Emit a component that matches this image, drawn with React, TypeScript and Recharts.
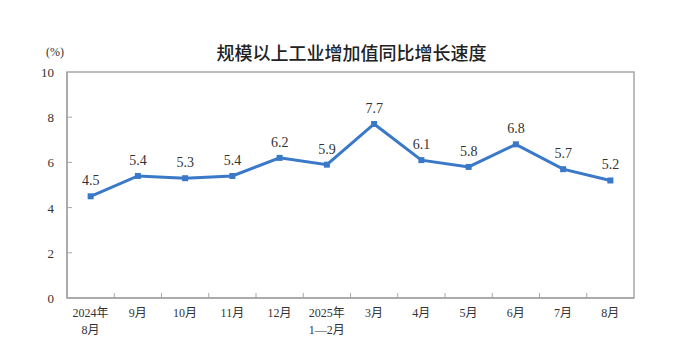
import React from "react";
import { LineChart, Line, XAxis, YAxis, ReferenceArea, LabelList } from "recharts";

const categories: string[][] = [
  ["2024年", "8月"], ["9月"], ["10月"], ["11月"], ["12月"], ["2025年", "1—2月"],
  ["3月"], ["4月"], ["5月"], ["6月"], ["7月"], ["8月"],
];
const growth: number[] = [4.5, 5.4, 5.3, 5.4, 6.2, 5.9, 7.7, 6.1, 5.8, 6.8, 5.7, 5.2];
const yTicks: number[] = [0, 2, 4, 6, 8, 10];
const xBoundaries: number[] = [0, 1, 2, 3, 4, 5, 6, 7, 8, 9, 10, 11, 12];

const data = growth.map((v, i) => ({ x: i + 0.5, v }));

const W = 673;
const H = 352;
const LEFT = 67;
const RIGHT = 39;
const TOP = 72;
const BOTTOM = 54;
const HALF_STEP = (W - LEFT - RIGHT) / categories.length / 2;
const SERIF = '"Liberation Serif", "Times New Roman", "Noto Sans CJK SC", serif';
const AXIS = "#a6a6a6";
const BLUE = "#3a78c8";

const XTick = (props: any) => {
  const { x, y, payload } = props;
  const idx = payload.value as number;
  const lab = idx < categories.length ? categories[idx] : null;
  return (
    <g>
      {idx > 0 && idx < categories.length && (
        <line x1={x} y1={y} x2={x} y2={y - 5} stroke={AXIS} strokeWidth={1} />
      )}
      {lab && (
        <text x={x + HALF_STEP} y={y + 19} textAnchor="middle" fontFamily={SERIF} fontSize={12} fill="#333">
          {lab.map((t, k) => (
            <tspan key={k} x={x + HALF_STEP} dy={k === 0 ? 0 : 17}>{t}</tspan>
          ))}
        </text>
      )}
    </g>
  );
};

const YTick = (props: any) => {
  const { x, y, payload } = props;
  return (
    <g>
      {payload.value > 0 && payload.value < 10 && (
        <line x1={x} y1={y} x2={x + 5} y2={y} stroke={AXIS} strokeWidth={1} />
      )}
      <text x={x - 13} y={y + 5} textAnchor="end" fontFamily={SERIF} fontSize={13} fill="#333">
        {payload.value}
      </text>
    </g>
  );
};

const Marker = (props: any) => {
  const { cx, cy } = props;
  return <rect x={cx - 3} y={cy - 3} width={6} height={6} fill={BLUE} />;
};

export default function App() {
  return (
    <div style={{ position: "absolute", left: 0, top: 0, width: W, height: H, background: "#fff" }}>
      <div
        style={{
          position: "absolute", left: 0, width: W, top: 39, textAlign: "center",
          fontFamily: '"Noto Sans CJK SC", sans-serif', fontSize: 18, fontWeight: 500, color: "#222",
          paddingLeft: 30, boxSizing: "border-box",
        }}
      >
        规模以上工业增加值同比增长速度
      </div>
      <div style={{ position: "absolute", left: 46, top: 45, fontFamily: SERIF, fontSize: 12, color: "#333" }}>
        (%)
      </div>
      <LineChart width={W} height={H} data={data} margin={{ top: TOP, right: RIGHT, left: 0, bottom: 0 }}>
        <ReferenceArea x1={0} x2={12} y1={0} y2={10} fill="none" stroke={AXIS} strokeWidth={1.5} />
        <XAxis
          dataKey="x"
          type="number"
          domain={[0, 12]}
          ticks={xBoundaries}
          interval={0}
          tickLine={false}
          tickSize={0}
          tickMargin={0}
          height={BOTTOM}
          axisLine={{ stroke: AXIS, strokeWidth: 1.5 }}
          tick={<XTick />}
        />
        <YAxis
          type="number"
          domain={[0, 10]}
          ticks={yTicks}
          interval={0}
          width={LEFT}
          tickLine={false}
          tickSize={0}
          tickMargin={0}
          axisLine={{ stroke: AXIS, strokeWidth: 1.5 }}
          tick={<YTick />}
        />
        <Line
          dataKey="v"
          stroke={BLUE}
          strokeWidth={3}
          dot={<Marker />}
          activeDot={false}
          isAnimationActive={false}
        >
          <LabelList dataKey="v" position="top" offset={11} fontFamily={SERIF} fontSize={14} fill="#333" />
        </Line>
      </LineChart>
    </div>
  );
}
